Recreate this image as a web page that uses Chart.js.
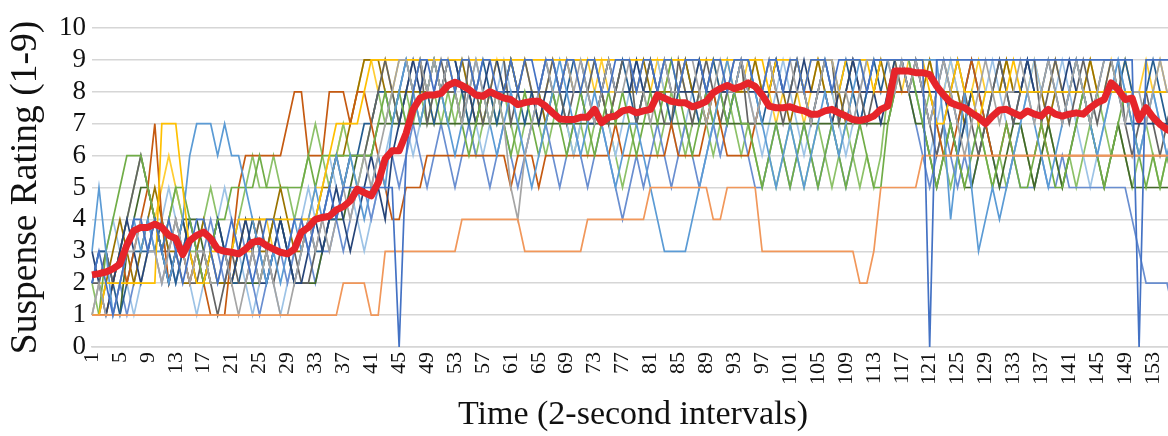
<!DOCTYPE html>
<html>
<head>
<meta charset="utf-8">
<script src="https://cdn.jsdelivr.net/npm/chart.js@4/dist/chart.umd.min.js"></script>
<style>
  html, body { margin: 0; padding: 0; background: #fff; overflow: hidden; }
  #wrap { width: 1168px; height: 436px; overflow: hidden; }
  #chart { display: block; width: 1174px; height: 436px; }
</style>
</head>
<body>
<div id="wrap"><canvas id="chart" width="1174" height="436"></canvas></div>
<script>
// Time categories (2-second intervals), every 4th one is labelled
const timeLabels = Array.from({ length: 156 }, (_, i) => String(i + 1));
const yTicks = [0, 1, 2, 3, 4, 5, 6, 7, 8, 9, 10];

// Mean suspense rating (thick red line)
const meanRating = [
  2.26, 2.3, 2.35, 2.45, 2.6, 3.2, 3.65, 3.75, 3.75, 3.85,
  3.75, 3.5, 3.4, 2.9, 3.33, 3.5, 3.6, 3.4, 3.07, 3.0,
  2.97, 2.92, 3.07, 3.28, 3.33, 3.18, 3.07, 2.97, 2.92, 3.07,
  3.6, 3.75, 4.0, 4.06, 4.1, 4.3, 4.4, 4.58, 4.95, 4.84,
  4.74, 5.15, 5.9, 6.15, 6.15, 6.7, 7.45, 7.8, 7.9, 7.9,
  7.95, 8.2, 8.3, 8.2, 8.07, 7.9, 7.86, 8.0, 7.9, 7.8,
  7.76, 7.6, 7.66, 7.7, 7.7, 7.55, 7.34, 7.15, 7.13, 7.13,
  7.2, 7.2, 7.45, 7.03, 7.2, 7.24, 7.4, 7.45, 7.34, 7.4,
  7.45, 7.9, 7.8, 7.7, 7.66, 7.66, 7.53, 7.6, 7.7, 7.97,
  8.1, 8.2, 8.1, 8.17, 8.28, 8.17, 7.9, 7.55, 7.5, 7.5,
  7.53, 7.45, 7.4, 7.3, 7.3, 7.4, 7.45, 7.34, 7.24, 7.13,
  7.1, 7.15, 7.24, 7.45, 7.55, 8.65, 8.65, 8.65, 8.6, 8.6,
  8.54, 8.18, 7.9, 7.66, 7.57, 7.5, 7.34, 7.2, 7.0, 7.24,
  7.43, 7.45, 7.34, 7.24, 7.4, 7.3, 7.24, 7.45, 7.3, 7.24,
  7.3, 7.34, 7.3, 7.5, 7.66, 7.76, 8.28, 8.07, 7.76, 7.8,
  7.13, 7.5, 7.2, 6.98, 6.82, 6.7
];

// Individual raters
const rater1 = [
  2,3,2,1,2,3,4,4,3,4, 3,4,3,2,3,4,4,3,2,3, 4,3,3,2,3,4,4,3,3,4, 4,3,4,4,5,4,5,5,5,5,
  5,5,5,5,0,6,8,9,9,8, 9,9,8,9,9,8,9,9,8,8, 9,8,9,9,8,9,9,8,9,9, 8,9,9,8,8,9,9,9,8,9,
  9,8,9,9,8,9,9,9,8,9, 9,8,9,9,9,8,8,9,9,8, 9,9,8,9,9,9,8,9,9,9, 9,8,9,9,9,9,9,9,9,9,
  0,9,9,9,9,9,9,9,9,9, 9,9,9,9,9,9,9,9,9,9, 9,9,9,9,9,9,9,9,9,9, 0,9,9,9,9,9
];
const rater2 = [
  1,1,1,1,1,1,1,1,1,1, 1,1,1,1,1,1,1,1,1,1, 1,1,1,1,1,1,1,1,1,1, 1,1,1,1,1,1,2,2,2,2,
  1,1,3,3,3,3,3,3,3,3, 3,3,3,4,4,4,4,4,4,4, 4,4,3,3,3,3,3,3,3,3, 3,4,4,4,4,4,4,4,4,4,
  5,5,5,5,5,5,5,5,5,4, 4,5,5,5,5,5,3,3,3,3, 3,3,3,3,3,3,3,3,3,3, 2,2,3,5,5,5,5,5,5,6,
  6,6,6,6,6,6,6,6,6,6, 6,6,6,6,6,6,6,6,6,6, 6,6,6,6,6,6,6,6,6,6, 6,6,6,6,6,6
];
const rater3 = [
  1,2,1,1,2,3,3,4,3,3, 2,3,4,3,2,3,3,2,2,3, 2,1,2,3,2,3,2,1,1,2, 3,4,3,4,3,4,5,4,5,6,
  5,6,7,8,9,9,8,9,8,9, 8,9,8,7,8,9,8,7,8,7, 5,4,6,7,8,9,8,8,9,8, 9,8,7,8,9,8,8,9,8,8,
  7,8,9,8,8,9,9,8,7,8, 9,8,8,9,8,7,8,9,8,8, 9,8,8,7,8,9,9,8,8,7, 8,9,9,9,9,8,9,8,9,8,
  7,8,9,8,7,6,7,8,9,8, 7,8,8,9,8,7,8,9,8,7, 8,9,8,7,8,9,9,8,7,8, 8,7,8,9,8,8
];
const rater4 = [
  1,1,2,2,2,2,2,2,2,2, 7,7,7,5,3,2,2,3,3,3, 3,4,4,4,4,4,4,4,4,4, 4,4,4,5,6,7,7,7,7,8,
  9,9,9,9,9,9,9,9,9,9, 9,9,9,9,9,9,9,9,9,9, 9,9,9,9,9,9,9,9,9,9, 9,9,9,9,9,9,9,9,9,9,
  9,9,9,9,9,9,9,9,9,9, 9,9,9,9,9,9,9,8,9,9, 9,9,8,9,9,9,9,8,9,9, 9,9,8,9,9,9,9,9,9,9,
  8,7,7,8,9,8,8,7,8,8, 8,8,9,8,8,8,8,8,8,8, 8,8,8,8,8,8,8,8,8,8, 8,8,8,8,8,8
];
const rater5 = [
  3,5,3,1,2,3,4,3,4,3, 3,2,3,4,6,7,7,7,6,7, 6,6,5,4,3,2,3,2,3,4, 3,4,5,4,5,6,5,6,5,4,
  5,6,5,7,8,9,8,7,8,9, 8,7,6,7,8,9,8,7,6,7, 8,7,6,5,6,7,8,9,8,7, 6,7,8,7,6,5,6,7,7,6,
  5,4,3,3,3,3,4,5,6,7, 8,9,8,9,9,8,7,6,5,6, 7,6,5,6,7,8,7,6,7,8, 9,9,9,9,9,8,9,9,9,9,
  9,9,7,4,6,8,5,3,4,5, 4,5,6,7,8,7,6,5,6,7, 8,9,8,7,6,7,8,9,8,7, 6,7,8,7,6,7
];
const rater6 = [
  1,1,3,4,5,6,6,6,5,4, 3,4,5,5,4,3,2,3,4,4, 5,5,5,5,6,5,5,5,5,5, 5,6,5,6,6,6,6,6,6,6,
  6,7,8,7,8,7,8,7,8,9, 8,7,8,7,6,7,8,7,8,7, 6,7,8,7,6,7,8,7,6,7, 8,7,6,7,8,7,8,7,6,7,
  8,7,8,9,8,7,6,7,8,7, 8,7,8,7,7,6,5,6,7,6, 5,6,7,6,5,6,7,6,5,6, 7,6,5,5,7,8,9,9,8,7,
  6,5,6,7,6,5,6,7,6,5, 6,7,6,5,5,6,7,6,5,5, 6,7,8,7,6,5,6,7,8,7, 6,5,6,5,6,5
];
const rater7 = [
  3,2,1,2,3,4,3,2,3,4, 3,2,3,4,3,2,2,3,4,3, 2,3,4,3,2,2,3,4,3,2, 2,3,4,3,4,5,4,3,4,5,
  6,5,4,6,7,8,9,8,9,9, 8,9,9,8,8,7,8,9,9,8, 8,8,8,8,7,8,8,8,8,8, 8,7,7,8,9,8,8,8,9,8,
  8,8,9,8,8,8,8,9,8,8, 8,8,8,9,8,8,8,8,9,8, 8,8,9,8,8,8,7,8,8,9, 8,8,8,7,8,9,9,8,8,8,
  8,8,8,7,6,7,8,8,8,8, 8,8,8,8,9,8,8,8,8,8, 9,8,8,8,8,8,8,8,7,7, 7,7,7,7,7,7
];
const rater8 = [
  1,1,1,2,3,2,3,4,5,7, 4,2,3,3,2,3,2,1,1,1, 3,5,6,6,6,6,6,6,7,8, 8,6,6,6,8,8,8,7,8,8,
  7,6,5,4,4,5,5,5,6,6, 6,6,6,6,6,6,6,6,6,6, 5,6,6,6,5,6,6,6,6,6, 6,6,6,6,6,7,6,6,6,6,
  6,6,6,7,6,6,6,6,7,8, 7,6,6,6,6,7,8,8,8,8, 8,8,8,8,8,8,7,8,8,8, 8,8,8,8,8,8,8,8,8,8,
  8,7,6,6,7,8,9,8,7,6, 6,7,6,6,6,6,7,6,6,6, 6,6,6,6,6,6,6,6,6,6, 6,6,6,6,6,6
];
const rater9 = [
  2,2,3,2,3,4,5,6,5,4, 3,3,4,3,2,2,3,2,1,2, 3,2,2,3,4,3,2,3,3,3, 2,2,3,4,5,6,5,6,6,6,
  7,8,9,8,7,8,9,9,7,8, 9,8,8,7,9,8,7,8,9,9, 7,8,9,8,8,8,9,8,7,8, 8,8,9,8,7,8,9,9,7,8,
  9,8,7,7,9,8,7,8,9,8, 7,8,9,9,7,7,8,9,8,7, 8,9,8,7,8,9,9,7,8,9, 8,7,8,9,9,9,8,8,9,8,
  7,6,7,8,9,8,7,6,7,8, 9,8,7,8,9,9,7,8,9,8, 7,8,9,8,7,8,9,9,7,6, 7,8,7,6,7,8
];
const rater10 = [
  1,1,2,3,4,3,2,3,4,5, 4,3,3,2,2,3,4,3,2,2, 2,3,4,4,3,3,4,5,4,3, 3,4,4,5,5,6,6,7,8,9,
  9,9,8,8,8,8,8,8,8,9, 8,8,8,9,8,7,8,8,8,8, 9,8,8,8,8,7,8,8,9,8, 8,8,8,8,7,8,8,8,8,9,
  8,8,8,8,8,9,8,8,7,8, 8,8,8,8,8,9,8,8,8,8, 7,8,8,8,9,8,8,8,7,8, 8,8,8,9,8,8,8,8,8,8,
  9,8,8,8,8,7,8,8,8,8, 8,9,8,8,8,8,8,7,8,8, 8,8,8,9,8,8,8,8,8,8, 8,8,8,8,8,8
];
const rater11 = [
  2,3,3,2,1,2,3,3,3,3, 4,3,2,3,4,3,2,3,4,3, 2,2,3,4,3,2,3,4,3,2, 3,4,3,3,4,4,5,6,6,7,
  7,8,8,7,8,9,8,9,8,7, 8,9,9,8,7,8,9,8,7,8, 9,8,7,8,8,9,8,7,8,9, 9,8,7,8,9,8,9,8,7,8,
  9,8,8,7,8,9,8,7,8,9, 8,7,8,9,9,8,7,8,9,8, 8,9,8,7,8,9,8,8,9,8, 7,8,9,8,9,9,9,8,9,8,
  7,8,9,8,7,8,9,8,7,8, 9,8,7,8,9,8,8,9,8,7, 8,9,8,7,8,9,9,8,9,8, 7,8,9,8,7,8
];
const rater12 = [
  1,1,1,1,1,3,4,5,5,4, 3,2,3,4,4,4,3,2,2,2, 2,2,2,2,2,3,4,4,3,2, 2,2,2,3,4,4,4,5,6,6,
  6,7,7,7,7,7,7,7,7,7, 7,7,7,7,7,7,7,7,7,7, 7,7,7,7,7,7,7,7,7,7, 7,7,7,7,7,7,7,7,7,7,
  7,7,7,7,7,7,7,7,7,7, 7,7,7,7,7,7,7,7,7,7, 7,7,7,7,7,7,7,7,7,7, 7,7,7,7,7,8,8,8,7,7,
  6,5,6,7,6,5,5,6,7,6, 5,6,7,7,6,5,6,7,6,5, 6,7,8,7,6,5,6,7,6,5, 5,5,5,5,5,5
];
const rater13 = [
  2,3,3,2,2,1,2,3,4,3, 2,3,2,3,4,3,3,4,3,2, 3,4,3,2,1,2,3,3,2,3, 4,3,2,3,3,4,3,4,5,5,
  4,5,6,6,5,6,7,6,5,6, 7,6,5,6,7,6,6,5,6,7, 6,5,6,7,8,7,6,5,6,7, 6,5,6,7,6,5,4,5,6,5,
  6,7,6,5,6,7,6,5,6,7, 6,7,8,7,6,5,5,6,7,6, 5,6,7,6,5,6,7,6,5,6, 7,8,9,9,9,9,9,8,7,6,
  5,6,7,6,5,6,5,6,7,6, 5,5,6,5,5,5,6,5,5,6, 5,5,5,5,5,5,5,5,5,4, 3,2,2,2,2,1
];
const rater14 = [
  1,2,3,4,3,2,1,2,3,4, 4,5,4,3,2,1,2,3,4,5, 4,3,2,1,2,3,2,1,2,3, 4,5,4,5,6,5,4,5,4,3,
  4,5,6,7,8,7,6,7,8,9, 8,7,8,9,8,7,6,7,8,9, 8,7,6,7,8,9,9,8,7,6, 7,8,9,8,7,6,7,8,9,8,
  9,9,8,7,6,7,8,9,8,7, 6,7,8,9,8,7,6,7,8,9, 8,7,6,7,8,9,8,7,6,7, 8,9,9,9,9,9,9,9,8,7,
  6,7,8,9,8,7,6,7,8,9, 8,7,6,7,8,9,8,7,8,9, 8,7,6,5,6,7,8,9,8,7, 6,7,8,7,6,5
];
const rater15 = [
  2,1,1,2,3,4,5,6,5,4, 3,4,5,4,3,3,4,5,4,3, 3,4,5,6,5,5,6,5,5,4, 5,6,7,6,5,6,7,6,5,6,
  7,8,7,8,7,8,7,8,7,8, 7,8,7,8,7,6,7,8,7,8, 7,6,7,8,7,6,7,8,7,6, 7,6,7,8,7,6,5,6,7,8,
  7,6,7,8,7,6,7,8,7,6, 7,8,7,6,7,6,5,6,5,6, 7,6,5,6,7,6,5,6,7,6, 5,6,5,6,8,9,9,9,8,7,
  8,7,6,5,6,7,8,7,6,5, 6,5,6,7,6,5,6,7,6,5, 6,5,6,7,8,7,6,7,6,5, 6,7,6,5,6,5
];
const rater16 = [
  1,2,2,2,3,2,2,2,3,4, 5,6,5,4,3,2,2,2,2,2, 2,3,3,3,4,4,3,3,3,3, 4,4,5,5,6,6,7,7,8,9,
  9,8,9,8,9,9,8,9,8,7, 8,9,8,9,9,8,7,8,9,8, 9,8,9,8,7,8,9,8,9,9, 8,9,8,9,8,8,9,9,8,8,
  8,9,8,9,9,8,8,9,8,9, 8,9,8,8,9,9,8,8,7,8, 8,8,7,8,9,8,8,7,8,9, 9,8,8,9,9,9,8,9,9,9,
  9,8,8,9,8,7,8,9,8,8, 8,9,8,8,8,9,8,8,9,8, 8,9,8,9,8,8,9,8,9,8, 8,9,8,9,8,8
];

const raters = [rater1, rater2, rater3, rater4, rater5, rater6, rater7, rater8,
  rater9, rater10, rater11, rater12, rater13, rater14, rater15, rater16];
const raterColors = ['#4472C4', '#F1975A', '#A5A5A5', '#FFC000', '#5B9BD5', '#70AD47',
  '#264478', '#C55A11', '#636363', '#997300', '#255E91', '#43682B',
  '#698ED0', '#9DC3E6', '#8CC168', '#FFCD33'];

const serif = "'Liberation Serif', 'Times New Roman', serif";

const datasets = [{
  label: 'Mean',
  data: meanRating,
  borderColor: '#E6242A',
  borderWidth: 7,
  pointRadius: 0,
  tension: 0,
  borderJoinStyle: 'round',
  order: 0
}];
raters.forEach((r, i) => {
  datasets.push({
    label: 'Rater ' + (i + 1),
    data: r,
    borderColor: raterColors[i],
    borderWidth: 1.7,
    pointRadius: 0,
    tension: 0,
    order: 1
  });
});

new Chart(document.getElementById('chart'), {
  type: 'line',
  data: { labels: timeLabels, datasets: datasets },
  options: {
    responsive: false,
    animation: false,
    devicePixelRatio: 1,
    layout: { padding: { top: 28, left: 0, right: 0, bottom: 0 } },
    plugins: { legend: { display: false }, tooltip: { enabled: false } },
    scales: {
      x: {
        offset: false,
        grid: { display: false, drawTicks: false },
        border: { display: true, color: '#d6d6d6', width: 1.5 },
        ticks: {
          autoSkip: false,
          minRotation: 90,
          maxRotation: 90,
          padding: 5,
          color: '#111',
          font: { family: serif, size: 22 },
          callback: (v, i) => (i % 4 === 0 ? timeLabels[i] : '')
        },
        title: {
          display: true,
          text: 'Time (2-second intervals)',
          color: '#111',
          font: { family: serif, size: 34 },
          padding: { top: 0, bottom: 1 }
        },
        afterFit: (s) => { s.height = 89; s.paddingLeft = 0; s.paddingRight = 0; }
      },
      y: {
        min: 0,
        max: 10,
        afterBuildTicks: (s) => { s.ticks = yTicks.map(v => ({ value: v })); },
        grid: { color: '#d6d6d6', lineWidth: 1.5, drawTicks: false },
        border: { display: false },
        ticks: {
          autoSkip: false,
          padding: 6,
          color: '#111',
          font: { family: serif, size: 27 }
        },
        title: {
          display: true,
          text: 'Suspense Rating (1-9)',
          color: '#111',
          font: { family: serif, size: 37.5 },
          padding: { top: 4, bottom: 0 }
        },
        afterFit: (s) => { s.width = 92; s.paddingTop = 0; s.paddingBottom = 0; }
      }
    }
  }
});
</script>
</body>
</html>
